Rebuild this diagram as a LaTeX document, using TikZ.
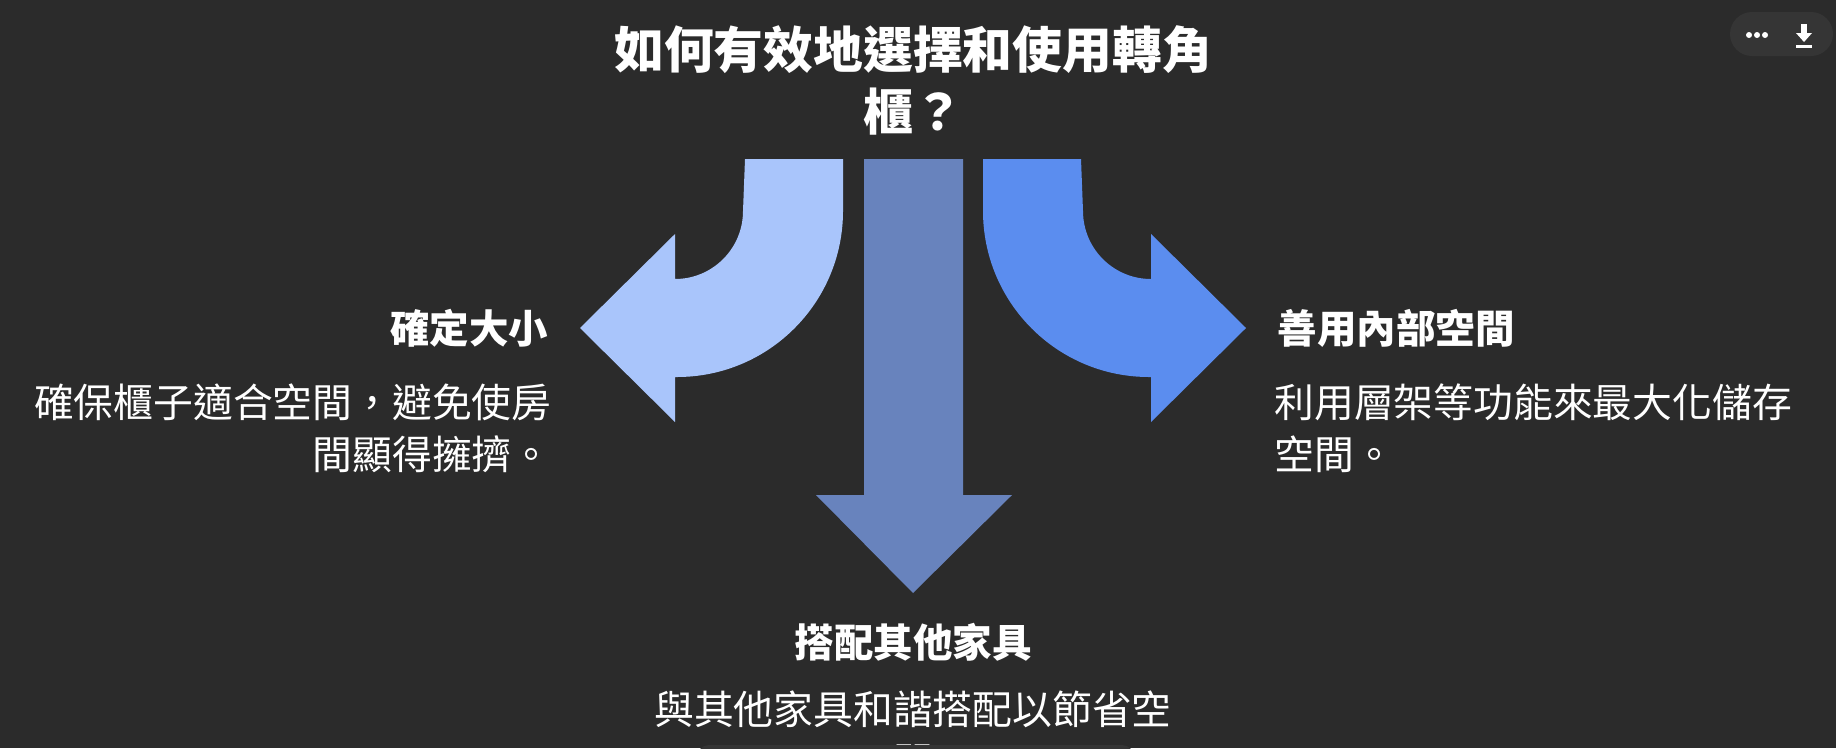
\documentclass[tikz,border=0pt]{standalone}
\usepackage{fontspec}
\newfontfamily\cjk{Noto Sans CJK TC}
\definecolor{bg}{HTML}{2B2B2B}
\definecolor{colL}{HTML}{A9C5FB}
\definecolor{colM}{HTML}{6883BD}
\definecolor{colR}{HTML}{5B8DEF}
\definecolor{btn}{HTML}{353535}
\tikzset{
  ttl/.style={text=white,font=\cjk\bfseries\fontsize{49.8}{62}\selectfont,align=center},
  hd/.style={text=white,font=\cjk\bfseries\fontsize{39.5}{46}\selectfont},
  ds/.style={text=white,font=\cjk\fontsize{39.8}{52}\selectfont},
}
\begin{document}
\begin{tikzpicture}[x=1pt,y=-1pt]
\fill[bg] (0,0) rectangle (1836,748);
\useasboundingbox (0,0) rectangle (1836,748);
% left arrow
\fill[colL] (745,159) -- (843,159) -- (843,211) arc[start angle=0,end angle=90,radius=166] -- (675,377) -- (675,422) -- (580,328) -- (675,234) -- (675,279) arc[start angle=90,end angle=0,radius=68] -- cycle;
% right arrow
\fill[colR] (1081,159) -- (983,159) -- (983,211) arc[start angle=180,end angle=90,radius=166] -- (1151,377) -- (1151,422) -- (1246,328) -- (1151,234) -- (1151,279) arc[start angle=90,end angle=180,radius=68] -- cycle;
% middle arrow
\fill[colM] (864,159) -- (963,159) -- (963,495) -- (1012,495) -- (913,593) -- (816,495) -- (864,495) -- cycle;
\node[ttl] (t) at (913,80) {如何有效地選擇和使用轉角\\櫃？};
\node[hd,anchor=east] (h1) at (552,328) {確定大小};
\node[ds,anchor=north east,align=right] (d1) at (555,380) {確保櫃子適合空間，避免使房\\間顯得擁擠。};
\node[hd,anchor=west] (h2) at (1274,328) {善用內部空間};
\node[ds,anchor=north west,align=left] (d2) at (1271,380) {利用層架等功能來最大化儲存\\空間。};
\node[hd] (h3) at (913,642) {搭配其他家具};
\node[ds,anchor=north,align=center] (d3) at (913,687) {與其他家具和諧搭配以節省空\\間};
\fill[btn,rounded corners=12] (697,745) rectangle (1134,775);
\fill[btn,rounded corners=22] (1730,12) rectangle (1833,56);
\foreach \x in {1749,1757,1765} \fill[white] (\x,35) circle (3);
\fill[white] (1801,24) rectangle (1807,34);
\fill[white] (1796,33) -- (1812,33) -- (1804,42) -- cycle;
\fill[white] (1796,45) rectangle (1812,48);
\end{tikzpicture}
\end{document}
